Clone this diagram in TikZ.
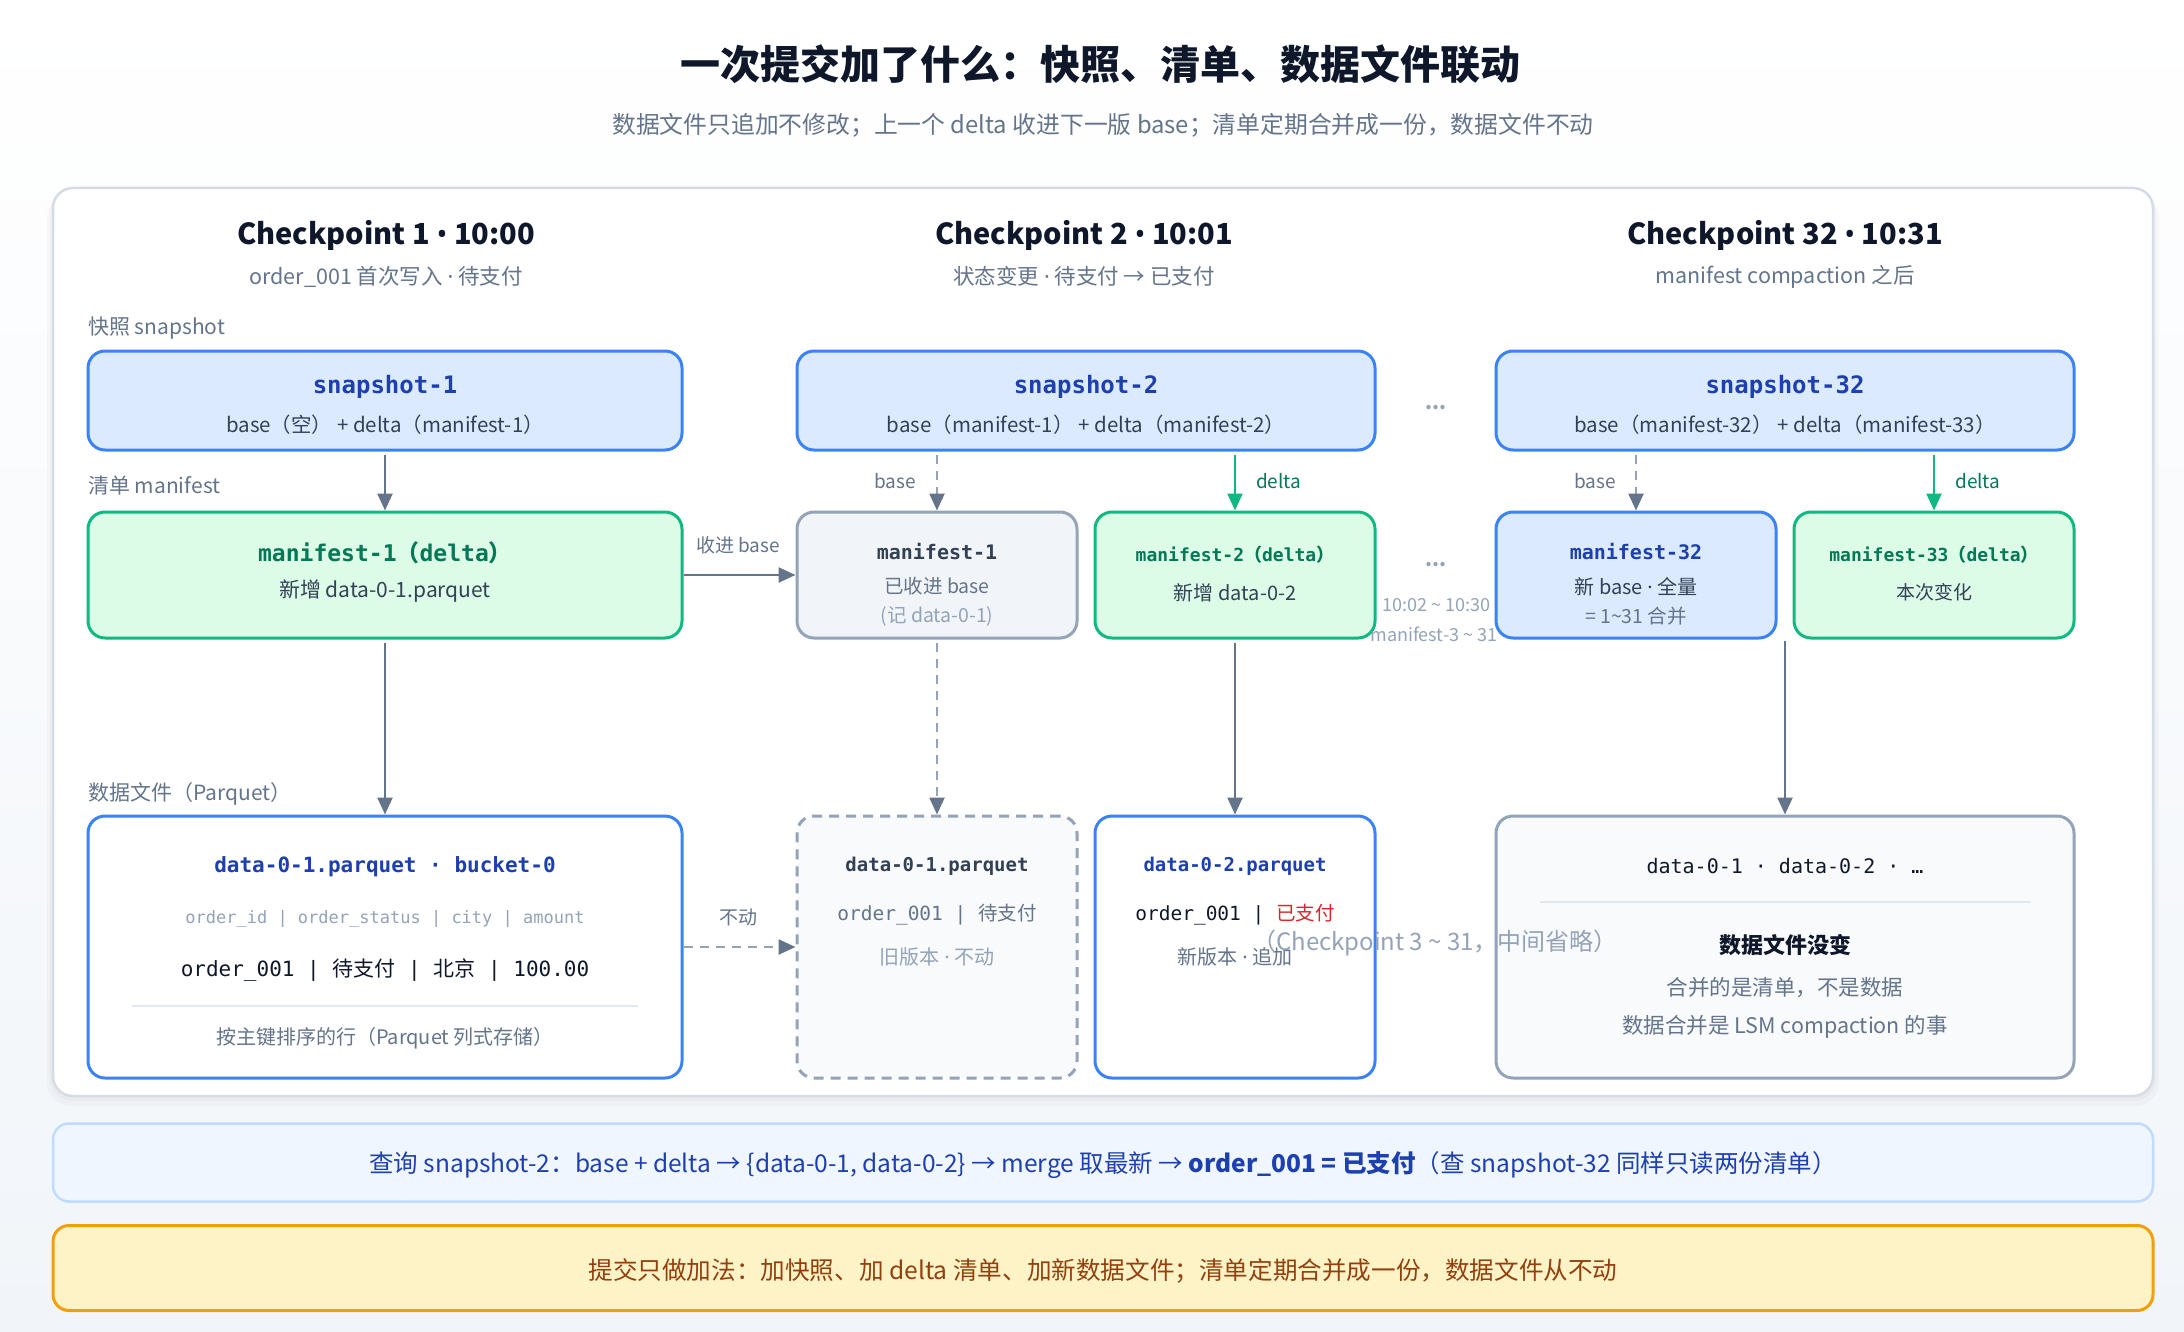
\documentclass[tikz,border=0pt]{standalone}
\usepackage{fontspec}
\setmainfont{Noto Sans CJK SC}
\newfontfamily\monof{DejaVu Sans Mono}
\newfontfamily\latf{Noto Sans}
\usetikzlibrary{arrows.meta}
\definecolor{cTitle}{HTML}{0F172A}
\definecolor{cSub}{HTML}{64748B}
\definecolor{cLight}{HTML}{94A3B8}
\definecolor{cBody}{HTML}{334155}
\definecolor{cBlueF}{HTML}{DBEAFE}
\definecolor{cBlueB}{HTML}{3B82F6}
\definecolor{cBlueT}{HTML}{1E40AF}
\definecolor{cGreenF}{HTML}{DCFCE7}
\definecolor{cGreenB}{HTML}{10B981}
\definecolor{cGreenT}{HTML}{047857}
\definecolor{cGrayF}{HTML}{F1F5F9}
\definecolor{cGrayF2}{HTML}{F8FAFC}
\definecolor{cGrayB}{HTML}{94A3B8}
\definecolor{cArrow}{HTML}{64748B}
\definecolor{cSep}{HTML}{E2E8F0}
\definecolor{cPanelB}{HTML}{D5DCE6}
\definecolor{cQF}{HTML}{EFF6FF}
\definecolor{cQB}{HTML}{BFDBFE}
\definecolor{cQT}{HTML}{1E40AF}
\definecolor{cOF}{HTML}{FEF3C7}
\definecolor{cOB}{HTML}{F59E0B}
\definecolor{cOT}{HTML}{92400E}
\definecolor{cRed}{HTML}{DC2626}
\definecolor{cBg}{HTML}{F1F5F9}
\newcommand\fs[1]{\fontsize{#1}{#1}\selectfont}
\newcommand\mo[1]{{\monof #1}}
\newcommand\md{{\latf ·}}
\newcommand\bul{{\latf •}}
\tikzset{
  box/.style={rounded corners=17pt, line width=3pt, inner sep=0pt},
  bluebox/.style={box, draw=cBlueB, fill=cBlueF},
  greenbox/.style={box, draw=cGreenB, fill=cGreenF},
  graybox/.style={box, draw=cGrayB, fill=cGrayF},
  filebox/.style={box, draw=cBlueB, fill=white},
  oldbox/.style={box, draw=cGrayB, fill=cGrayF2, dash pattern=on 10pt off 7pt},
  mergedbox/.style={box, draw=cGrayB, fill=cGrayF2},
  txt/.style={inner sep=0pt, yshift=-2.5pt},
  head/.style={txt, font=\fs{29}\bfseries, text=cTitle},
  subhead/.style={txt, font=\fs{21.5}, text=cSub},
  sect/.style={txt, anchor=west, font=\fs{21}, text=cSub},
  btitle/.style={txt, font=\fs{24}\monof\bfseries, text=cBlueT},
  body/.style={txt, font=\fs{20.5}, text=cBody},
  arr/.style={draw=cArrow, line width=2.5pt, -{Triangle[length=17pt,width=15pt]}},
  garr/.style={draw=cGreenB, line width=2.5pt, -{Triangle[length=17pt,width=15pt]}},
  darr/.style={draw=cGrayB, line width=2.5pt, dash pattern=on 9pt off 7pt, -{Triangle[length=17pt,width=15pt,color=cArrow]}},
  lab/.style={txt, font=\fs{19}, text=cSub},
}
\begin{document}
\begin{tikzpicture}[x=1pt,y=-1pt]
\useasboundingbox (0,0) rectangle (2184,1332);
\shade[top color=white, bottom color=cBg] (0,0) rectangle (2184,1332);

% title
\node[txt, font=\fs{40}\bfseries, text=cTitle] (title) at (1100,62) {一次提交加了什么：快照、清单、数据文件联动};
\node[txt, font=\fs{23.8}, text=cSub] (subtitle) at (1103,123) {数据文件只追加不修改；上一个 delta 收进下一版 base；清单定期合并成一份，数据文件不动};

% panel
\fill[black, opacity=0.025, rounded corners=24pt] (47,194) rectangle (2159,1106);
\fill[black, opacity=0.025, rounded corners=22pt] (50,191) rectangle (2156,1101);
\node[draw=cPanelB, fill=white, line width=2.5pt, rounded corners=20pt, minimum width=2100pt, minimum height=908pt, inner sep=0pt] (panel) at (1103,642) {};

% headings
\node[head] (h1) at (386,233) {Checkpoint 1 \bul{} 10:00};
\node[subhead] (h1s) at (386,274) {order\_001 首次写入 \md{} 待支付};
\node[head] (h2) at (1084,233) {Checkpoint 2 \bul{} 10:01};
\node[subhead] (h2s) at (1084,274) {状态变更 \md{} 待支付 → 已支付};
\node[head] (h3) at (1785,233) {Checkpoint 32 \bul{} 10:31};
\node[subhead] (h3s) at (1785,274) {manifest compaction 之后};

\node[sect] (secS) at (88,326) {快照 snapshot};
\node[sect] (secM) at (88,483) {清单 manifest};
\node[sect] (secD) at (88,791) {数据文件（Parquet）};

% column 1
\node[bluebox, minimum width=594pt, minimum height=99pt] (s1) at (385,400.5) {};
\node[btitle] (s1a) at (385,384) {snapshot-1};
\node[body] (s1b) at (385,422) {base（空） + delta（manifest-1）};

\node[greenbox, minimum width=594pt, minimum height=126pt] (m1) at (385,575) {};
\node[txt, font=\fs{23}\bfseries, text=cGreenT] (m1a) at (385,550) {\mo{manifest-1}（\mo{delta}）};
\node[txt, font=\fs{21}, text=cBody] (m1b) at (385,589) {新增 data-0-1.parquet};

\node[filebox, minimum width=594pt, minimum height=262pt] (d1) at (385,947) {};
\node[txt, font=\fs{21}\monof\bfseries, text=cBlueT] (d1a) at (385,864) {data-0-1.parquet · bucket-0};
\node[txt, font=\fs{17}\monof, text=cLight] (d1b) at (385,917) {order\_id | order\_status | city | amount};
\node[txt, font=\fs{21}, text=cTitle] (d1c) at (385,968) {\mo{order\_001 |\ }待支付\mo{\ |\ }北京\mo{\ | 100.00}};
\draw[cSep, line width=2pt] (132,1006) -- (638,1006);
\node[txt, font=\fs{20}, text=cSub] (d1d) at (385,1036) {按主键排序的行（Parquet 列式存储）};

\draw[arr, shorten <=3pt] (s1) -- (m1);
\draw[arr, shorten <=3pt] (m1) -- (d1);

% column 2
\node[bluebox, minimum width=578pt, minimum height=99pt] (s2) at (1086,400.5) {};
\node[btitle] (s2a) at (1086,384) {snapshot-2};
\node[body] (s2b) at (1086,422) {base（manifest-1） + delta（manifest-2）};

\node[graybox, minimum width=280pt, minimum height=126pt] (mo1) at (937,575) {};
\node[txt, font=\fs{20}\monof\bfseries, text=cBody] (mo1a) at (937,549) {manifest-1};
\node[txt, font=\fs{19.5}, text=cSub] (mo1b) at (937,584) {已收进 base};
\node[txt, font=\fs{19.5}, text=cLight] (mo1c) at (937,614) {(记 data-0-1)};

\node[greenbox, minimum width=280pt, minimum height=126pt] (m2) at (1235,575) {};
\node[txt, font=\fs{18}\bfseries, text=cGreenT] (m2a) at (1235,552) {\mo{manifest-2}（\mo{delta}）};
\node[txt, font=\fs{20}, text=cBody] (m2b) at (1235,590) {新增 data-0-2};

\node[oldbox, minimum width=280pt, minimum height=262pt] (do1) at (937,947) {};
\node[txt, font=\fs{19}\monof\bfseries, text=cBody] (do1a) at (937,864) {data-0-1.parquet};
\node[txt, font=\fs{19.5}, text=cArrow] (do1b) at (937,912) {\mo{order\_001 |\ }待支付};
\node[txt, font=\fs{20}, text=cLight] (do1c) at (937,954) {旧版本 \md{} 不动};

\node[filebox, minimum width=280pt, minimum height=262pt] (d2) at (1235,947) {};
\node[txt, font=\fs{19}\monof\bfseries, text=cBlueT] (d2a) at (1235,864) {data-0-2.parquet};
\node[txt, font=\fs{19.5}, text=cTitle] (d2b) at (1235,912) {\mo{order\_001 |\ }\textcolor{cRed}{已支付}};
\node[txt, font=\fs{20}, text=cArrow] (d2c) at (1235,954) {新版本 \md{} 追加};

\draw[darr, shorten <=3pt] (s2.south -| mo1) -- (mo1);
\node[lab, anchor=east] (lb2) at (916,479) {base};
\draw[garr, shorten <=3pt] (s2.south -| m2) -- (m2);
\node[lab, anchor=west, text=cGreenT] (ld2) at (1256,479) {delta};
\draw[darr, shorten <=3pt] (mo1) -- (do1);
\draw[arr, shorten <=3pt] (m2) -- (d2);

\draw[arr] (m1.east) -- (mo1.west);
\node[lab] (lmv) at (738,543) {收进 base};
\draw[darr] (d1.east) -- (do1.west);
\node[lab] (lst) at (738,915) {不动};

% between
\node[txt, font=\fs{20}\bfseries, text=cLight] (dots1) at (1436,405) {...};
\node[txt, font=\fs{20}\bfseries, text=cLight] (dots2) at (1436,562) {...};
\node[txt, font=\fs{18}, text=cLight] (rng1) at (1436,603) {10:02 \textasciitilde{} 10:30};
\node[txt, font=\fs{18}, text=cLight] (rng2) at (1434,632) {manifest-3 \textasciitilde{} 31};

% column 32
\node[bluebox, minimum width=578pt, minimum height=99pt] (s3) at (1785,400.5) {};
\node[btitle] (s3a) at (1785,384) {snapshot-32};
\node[body] (s3b) at (1785,422) {base（manifest-32） + delta（manifest-33）};

\node[bluebox, minimum width=280pt, minimum height=126pt] (m32) at (1636,575) {};
\node[txt, font=\fs{20}\monof\bfseries, text=cBlueT] (m32a) at (1636,549) {manifest-32};
\node[txt, font=\fs{20}, text=cBody] (m32b) at (1636,584) {新 base \md{} 全量};
\node[txt, font=\fs{19.5}, text=cSub] (m32c) at (1636,614) {= 1\textasciitilde{}31 合并};

\node[greenbox, minimum width=280pt, minimum height=126pt] (m33) at (1934,575) {};
\node[txt, font=\fs{18}\bfseries, text=cGreenT] (m33a) at (1934,552) {\mo{manifest-33}（\mo{delta}）};
\node[txt, font=\fs{19}, text=cBody] (m33b) at (1934,590) {本次变化};

\node[mergedbox, minimum width=578pt, minimum height=262pt] (d3) at (1785,947) {};
\node[txt, font=\fs{20}\monof, text=cTitle] (d3a) at (1785,864) {data-0-1 · data-0-2 · …};
\draw[cSep, line width=2pt] (1540,902) -- (2031,902);
\node[txt, font=\fs{22}\bfseries, text=cTitle] (d3b) at (1785,943) {数据文件没变};
\node[txt, font=\fs{21.5}, text=cSub] (d3c) at (1785,985) {合并的是清单，不是数据};
\node[txt, font=\fs{21.5}, text=cSub] (d3d) at (1785,1024) {数据合并是 LSM compaction 的事};

\draw[darr, shorten <=3pt] (s3.south -| m32) -- (m32);
\node[lab, anchor=east] (lb3) at (1616,479) {base};
\draw[garr, shorten <=3pt] (s3.south -| m33) -- (m33);
\node[lab, anchor=west, text=cGreenT] (ld3) at (1955,479) {delta};
\coordinate (gap3) at (1785,641);
\draw[arr] (gap3) -- (d3);

% overlay note
\node[txt, font=\fs{24}, text=cLight] (omit) at (1435,940) {（Checkpoint 3 \textasciitilde{} 31，中间省略）};

% bottom boxes
\node[draw=cQB, fill=cQF, line width=2.5pt, rounded corners=16pt, minimum width=2100pt, minimum height=78pt, inner sep=0pt] (qbox) at (1103,1162.5) {};
\node[txt, font=\fs{24.5}, text=cQT] (qtext) at (1103,1163) {查询 snapshot-2：base + delta → \{data-0-1, data-0-2\} → merge 取最新 → \textbf{order\_001 = 已支付}（查 snapshot-32 同样只读两份清单）};
\node[draw=cOB, fill=cOF, line width=3pt, rounded corners=16pt, minimum width=2100pt, minimum height=85pt, inner sep=0pt] (obox) at (1103,1268) {};
\node[txt, font=\fs{24.6}, text=cOT] (otext) at (1103,1269) {提交只做加法：加快照、加 delta 清单、加新数据文件；清单定期合并成一份，数据文件从不动};
\end{tikzpicture}
\end{document}
